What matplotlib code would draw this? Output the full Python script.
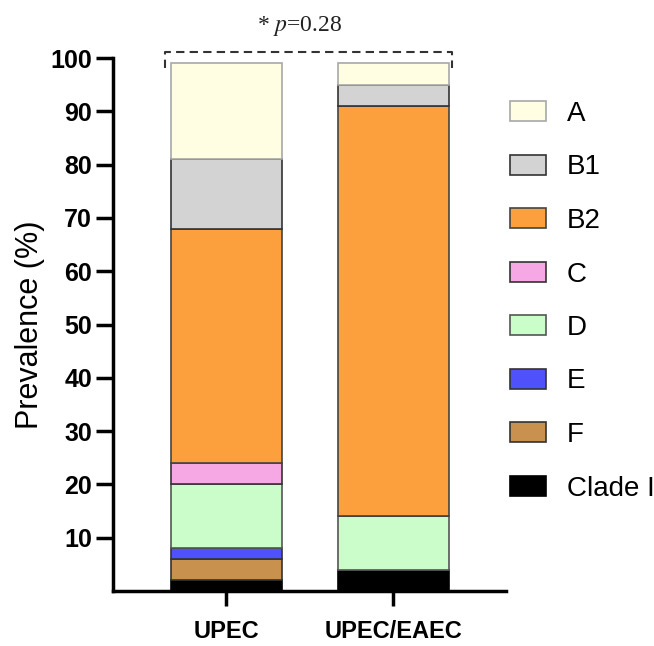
import numpy as np
import matplotlib
matplotlib.use("Agg")
import matplotlib.pyplot as plt
from matplotlib.patches import Patch

groups = ["UPEC", "UPEC/EAEC"]
# stacking order bottom -> top
phylo = ["Clade I", "F", "E", "D", "C", "B2", "B1", "A"]
upec = [2, 4, 2, 12, 4, 44, 13, 18]
upec_eaec = [4, 0, 0, 10, 0, 77, 4, 4]
colors = ["#000000", "#C8914D", "#4F51FA", "#CBFDCB", "#F6A8E4", "#FBA03D", "#D3D3D3", "#FFFDE2"]
edges = ["#000000", "#333333", "#333333", "#555555", "#333333", "#444444", "#333333", "#A8A8A8"]
p_label = "0.28"

plt.rcParams["font.family"] = ["Liberation Sans", "DejaVu Sans"]
plt.rcParams["mathtext.fontset"] = "stix"

fig = plt.figure(figsize=(6.54, 6.46), dpi=100)
ax = fig.add_axes([0.1728, 0.0851, 0.6009, 0.8251])

x = np.arange(len(groups))
data = np.array([upec, upec_eaec]).T
bottom = np.zeros(len(groups))
for name, vals, c, e in zip(phylo, data, colors, edges):
    ax.bar(x, vals, 0.665, bottom=bottom, color=c, edgecolor=e, linewidth=1.2, label=name)
    bottom += vals

ax.set_xlim(-0.677, 1.675)
ax.set_ylim(0, 100)
ax.set_yticks(np.arange(10, 101, 10))
ax.set_xticks(x)
ax.set_xticklabels(groups, fontweight="bold", fontsize=17)
ax.tick_params(axis="y", labelsize=18, width=2.5, length=12, pad=3)
ax.tick_params(axis="x", width=2.5, length=11, pad=10)
for t in ax.get_yticklabels():
    t.set_fontweight("bold")
ax.set_ylabel("Prevalence (%)", fontsize=22, labelpad=4)

for s in ["top", "right"]:
    ax.spines[s].set_visible(False)
for s in ["left", "bottom"]:
    ax.spines[s].set_linewidth(2.5)

# significance bracket
bx = [-0.364, -0.364, 1.349, 1.349]
by = [98.1, 101.1, 101.1, 98.1]
ax.plot(bx, by, color="#333333", linestyle=(0, (4, 2.5)), linewidth=1.5, clip_on=False)
ax.text(0.44, 106.0, r"* $p$=" + p_label, ha="center", va="center", fontsize=17,
        family="Liberation Serif", color="#222222", clip_on=False)

handles = [Patch(facecolor=c, edgecolor=e, linewidth=1.2) for c, e in zip(colors, edges)]
fig.legend(handles[::-1], phylo[::-1], loc="upper left", bbox_to_anchor=(510 / 654, 1 - 101 / 646),
           frameon=False, fontsize=20, handlelength=1.3, handleheight=0.72,
           labelspacing=0.99, handletextpad=0.75, borderpad=0, borderaxespad=0)

fig.savefig("out.png", dpi=100)
